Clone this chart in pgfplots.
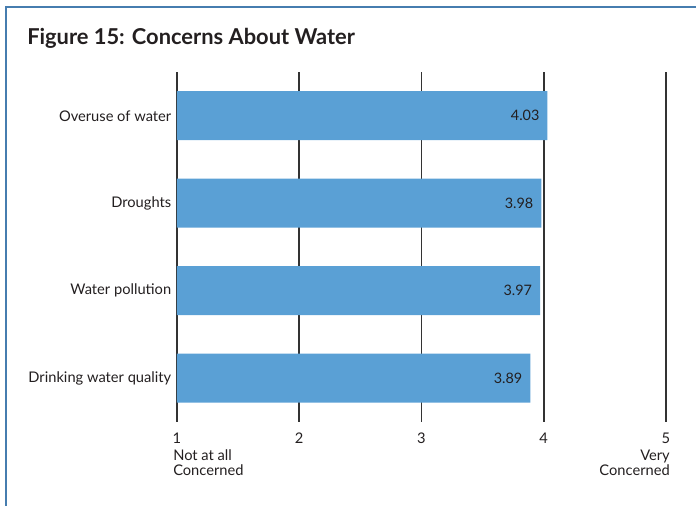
\documentclass[border=0pt]{standalone}
\usepackage{pgfplots}
\pgfplotsset{compat=1.18}
\usepackage{fontspec}
\setmainfont{Lato}
\definecolor{barblue}{RGB}{90,160,213}
\definecolor{frameblue}{RGB}{70,125,175}
\definecolor{txt}{RGB}{35,31,32}
\begin{document}
\begin{tikzpicture}[x=0.75pt,y=0.75pt]
\path[use as bounding box] (0,0) rectangle (696,506);
\draw[frameblue, line width=1pt] (6,0) -- (6,499) -- (696,499);
\node[anchor=base west, font=\fontsize{16.4}{19}\selectfont\bfseries, text=txt, inner sep=0pt] at (27,506-45) {Figure 15: Concerns About Water};
\begin{axis}[
  at={(132.75pt,63pt)}, anchor=south west, scale only axis,
  width=366.75pt, height=262.5pt,
  xbar, bar shift=0pt, bar width=36.75pt,
  xmin=1, xmax=5, ymin=-0.5, ymax=3.5,
  xtick={1,2,3,4,5},
  xmajorgrids, grid style={draw=black!80, line width=1.4pt},
  major tick length=0pt,
  axis line style={draw=none},
  ytick={0,1,2,3},
  yticklabels={Drinking water quality, Water pollution, Droughts, Overuse of water},
  tick label style={font=\fontsize{11}{13}\selectfont, text=txt},
  yticklabel style={xshift=-0.8pt},
  xticklabel style={yshift=-4.5pt},
  /pgf/number format/assume math mode=true,
  nodes near coords,
  nodes near coords style={anchor=east, xshift=-2.5pt, font=\fontsize{10.8}{12}\selectfont, text=txt,
    /pgf/number format/fixed, /pgf/number format/fixed zerofill, /pgf/number format/precision=2},
  clip mode=individual,
]
\addplot[draw=none, fill=barblue] coordinates {(3.89,0) (3.97,1) (3.98,2) (4.03,3)};
\node[anchor=north west, align=left, inner sep=0pt, font=\fontsize{11}{11.4}\selectfont, text=txt] at (axis cs:1,-0.5) [xshift=-3pt, yshift=-20.5pt] {Not at all\\Concerned};
\node[anchor=north east, align=right, inner sep=0pt, font=\fontsize{11}{11.4}\selectfont, text=txt] at (axis cs:5,-0.5) [xshift=3pt, yshift=-20.5pt] {Very\\Concerned};
\end{axis}
\end{tikzpicture}
\end{document}
